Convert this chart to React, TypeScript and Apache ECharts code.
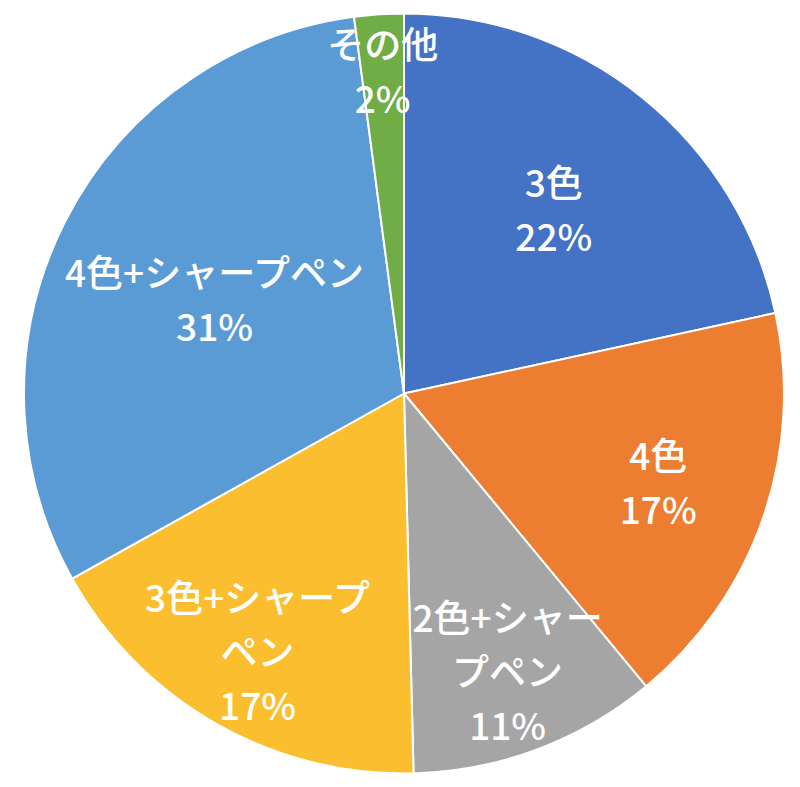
import { useEffect, useRef } from 'react';
import * as echarts from 'echarts';

const CATEGORIES = ['3色', '4色', '2色+シャープペン', '3色+シャープペン', '4色+シャープペン', 'その他'];
const SHARES = [21.6, 17.4, 10.6, 17.3, 31.0, 2.1];
const COLORS = ['#4472C4', '#ED7D31', '#A5A5A5', '#FBBE2E', '#5B9BD5', '#70AD47'];

// label text as wrapped in the chart
const LABEL_NAMES = ['3色', '4色', '2色+シャー\nプペン', '3色+シャープ\nペン', '4色+シャープペン', 'その他'];
// where each label sits along its slice, as a fraction of the radius
const LABEL_DIST = [0.62, 0.7, 0.77, 0.77, 0.55, 0.845];

const RADIUS = 380;
const FONT = "'Noto Sans CJK JP', 'Noto Sans', sans-serif";

export default function App() {
  const chartRef = useRef<HTMLDivElement>(null);

  useEffect(() => {
    document.body.style.margin = '0';
    if (!chartRef.current) return;
    const chart = echarts.init(chartRef.current, undefined, { renderer: 'svg' });

    const data = CATEGORIES.map((name, i) => ({ name, value: SHARES[i] }));

    // transparent rings that only carry the labels, so each label can sit at its own distance
    const labelSeries = CATEGORIES.map((_, idx) => ({
      type: 'pie',
      name: 'label-' + idx,
      center: ['50.5%', '50%'],
      radius: [RADIUS * (2 * LABEL_DIST[idx] - 1), RADIUS],
      startAngle: 90,
      percentPrecision: 0,
      silent: true,
      z: 3,
      itemStyle: { color: 'transparent', borderWidth: 0 },
      emphasis: { disabled: true },
      labelLine: { show: false },
      data: data.map((d, i) => ({
        ...d,
        label: { show: i === idx },
      })),
      label: {
        position: 'inside',
        color: '#ffffff',
        fontFamily: FONT,
        fontSize: 37,
        fontWeight: 500,
        lineHeight: 54,
        formatter: (p: { dataIndex: number; percent: number }) =>
          `${LABEL_NAMES[p.dataIndex]}\n${p.percent}%`,
      },
    }));

    chart.setOption({
      animation: false,
      color: COLORS,
      series: [
        {
          type: 'pie',
          name: 'main',
          center: ['50.5%', '50%'],
          radius: [0, RADIUS],
          startAngle: 90,
          z: 2,
          itemStyle: { borderColor: '#ffffff', borderWidth: 2 },
          emphasis: { disabled: true },
          label: { show: false },
          labelLine: { show: false },
          data,
        },
        ...labelSeries,
      ],
    });

    return () => {
      chart.dispose();
    };
  }, []);

  return <div ref={chartRef} style={{ width: '800px', height: '787px' }} />;
}
